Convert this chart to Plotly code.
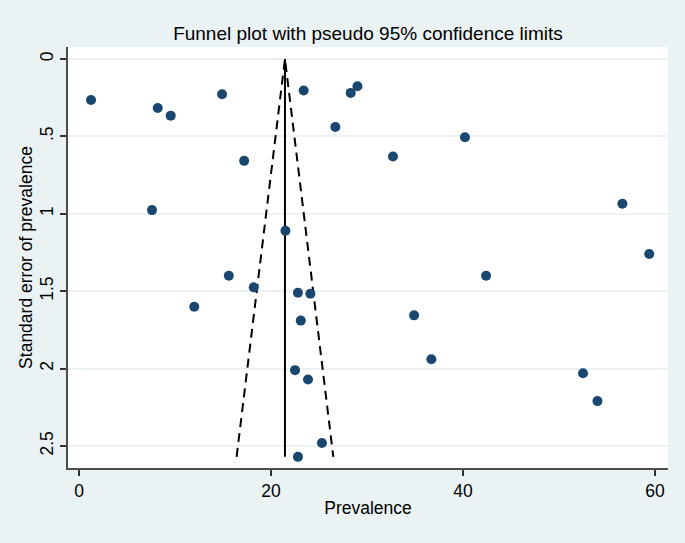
import plotly.graph_objects as go

# Study-level data
prevalence = [1.25, 8.2, 9.55, 14.9, 23.4, 28.3, 29.0, 26.7, 40.2, 17.2,
              32.7, 7.6, 21.5, 56.6, 59.4, 15.6, 18.2, 42.4, 12.0, 22.8,
              24.1, 23.1, 34.9, 36.7, 22.5, 23.85, 52.5, 54.0, 25.3, 22.8]
std_error = [0.265, 0.317, 0.366, 0.228, 0.204, 0.219, 0.176, 0.439, 0.505, 0.658,
             0.63, 0.976, 1.11, 0.935, 1.26, 1.40, 1.475, 1.40, 1.60, 1.51,
             1.516, 1.69, 1.656, 1.94, 2.01, 2.07, 2.03, 2.21, 2.48, 2.57]

pooled = 21.45
se_max = 2.57
z = 1.96

x_ticks = [0, 20, 40, 60]
y_ticks = [0, 0.5, 1, 1.5, 2, 2.5]
y_tick_text = ["0", ".5", "1", "1.5", "2", "2.5"]

BG = "#EAF2F3"
FONT = "Liberation Sans, Arial, sans-serif"

fig = go.Figure()

# Pseudo 95% confidence limits
fig.add_trace(go.Scatter(
    x=[pooled - z * se_max, pooled, pooled + z * se_max],
    y=[se_max, 0, se_max],
    mode="lines", line=dict(color="black", width=2, dash="9px,6px"),
    hoverinfo="skip", showlegend=False))
# Pooled estimate line
fig.add_trace(go.Scatter(
    x=[pooled, pooled], y=[0, se_max],
    mode="lines", line=dict(color="black", width=2),
    hoverinfo="skip", showlegend=False))
# Studies
fig.add_trace(go.Scatter(
    x=prevalence, y=std_error, mode="markers",
    marker=dict(color="#1A476F", size=10, line=dict(width=0)),
    showlegend=False))

fig.update_layout(
    width=685, height=543,
    margin=dict(l=68, r=17, t=47, b=75, autoexpand=False),
    paper_bgcolor=BG, plot_bgcolor="white",
    font=dict(family=FONT, color="black"),
    title=dict(text="Funnel plot with pseudo 95% confidence limits",
               x=0.5, xref="paper", xanchor="center",
               y=1 - 33 / 543, yref="container", yanchor="middle",
               font=dict(size=19, family=FONT, color="black")),
)

fig.update_xaxes(
    range=[-1.15, 61.35], tickvals=x_ticks, automargin=False,
    showgrid=False, zeroline=False,
    showline=True, linecolor="#4d4d4d", linewidth=1.5,
    ticks="outside", ticklen=6, tickwidth=1.5, tickcolor="#333",
    tickfont=dict(size=17.5),
    title=dict(text="Prevalence", font=dict(size=17.5), standoff=2),
)
fig.update_yaxes(
    range=[2.642, -0.0775], tickvals=y_ticks, ticktext=y_tick_text,
    tickangle=-90, automargin=False,
    showgrid=True, gridcolor=BG, gridwidth=1.5, zeroline=False,
    showline=True, linecolor="#4d4d4d", linewidth=1.5,
    ticks="outside", ticklen=6, tickwidth=1.5, tickcolor="#333",
    tickfont=dict(size=17.5),
    title=dict(text="Standard error of prevalence", font=dict(size=17.5), standoff=0),
)

fig.write_html(
    "out.html",
    config={"displayModeBar": False},
    post_script="document.body.style.margin='0';document.body.style.background='#EAF2F3';",
)
